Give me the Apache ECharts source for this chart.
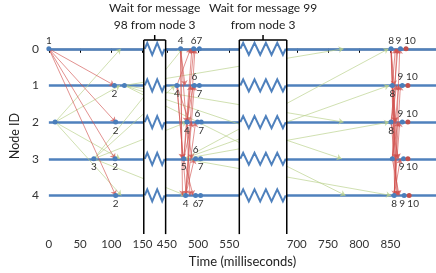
<!DOCTYPE html>
<html lang="en">
<head>
  <meta charset="UTF-8">
  <title>Message timeline</title>
  <style>
    html, body { margin: 0; padding: 0; background: #fff; }
    #chart { width: 436px; height: 273px; }
  </style>
  <script src="https://cdn.jsdelivr.net/npm/echarts@6.0.0/dist/echarts.min.js"></script>
</head>
<body>
  <div id="chart"></div>
  <script>
    // node ids (rows)
    var nodes = [0, 1, 2, 3, 4];
    // x tick labels (ms)
    var timeTicks = [0, 50, 100, 150, 450, 500, 550, 700, 750, 800, 850];
    // broken parts of the time axis [start, end]
    var waitRanges = [[152, 448], [566, 684]];
    var waitNotes = ['Wait for message\n98 from node 3', 'Wait for message 99\nfrom node 3'];

    // events: [time, node, label]
    var eventsAbove = [
      [0, 0, '1'], [472, 0, '4'], [493, 0, '6'], [502, 0, '7'],
      [494, 1, '6'], [499, 2, '6'], [496, 3, '6'],
      [851, 0, '8'], [866, 0, '9'], [869, 1, '9'], [869, 2, '9']
    ];
    var eventsBelow = [
      [105, 1, '2'], [107, 2, '2'], [72, 3, '3'], [106, 3, '2'], [107, 4, '2'],
      [466, 1, '4'], [502, 1, '7'], [482, 2, '4'], [505, 2, '7'],
      [477, 3, '5'], [504, 3, '7'], [480, 4, '4'], [496, 4, '6'], [504, 4, '7'],
      [853, 1, '8'], [851, 2, '8'], [871, 3, '9'], [856, 4, '8'], [872, 4, '9']
    ];
    var eventsPlain = [[121, 1], [10, 2], [853, 3]];
    // commit events (red)
    var commitAbove = [[875, 0, '10'], [878, 1, '10'], [878, 2, '10']];
    var commitBelow = [[878, 3, '10'], [880, 4, '10']];

    // messages: [fromTime, fromNode, toTime, toNode]
    var greenMsgs = [
      [10, 2, 115, 0], [10, 2, 114, 1], [10, 2, 114, 3], [10, 2, 116, 4],
      [72, 3, 475, 0], [72, 3, 463, 1], [72, 3, 482, 2], [72, 3, 480, 4],
      [121, 1, 775, 0], [121, 1, 775, 2], [121, 1, 772, 3], [121, 1, 778, 4],
      [477, 3, 847, 0], [477, 3, 848, 1], [477, 3, 848, 2], [477, 3, 851, 4]
    ];
    var redMsgs = [
      [0, 0, 105, 1], [0, 0, 107, 2], [0, 0, 106, 3], [0, 0, 107, 4],
      // round around 480 ms
      [466, 1, 488, 0], [482, 2, 493, 0], [477, 3, 490, 0], [480, 4, 495, 0],
      [472, 0, 479, 1], [482, 2, 492, 1], [477, 3, 488, 1], [480, 4, 494, 1],
      [472, 0, 481, 2], [466, 1, 486, 2], [477, 3, 490, 2], [480, 4, 496, 2],
      [472, 0, 474, 3], [466, 1, 476, 3], [482, 2, 490, 3], [480, 4, 494, 3],
      [472, 0, 475, 4], [466, 1, 481, 4], [482, 2, 487, 4], [477, 3, 492, 4],
      // round around 850 ms
      [853, 1, 858, 0], [851, 2, 862, 0], [853, 3, 860, 0], [856, 4, 865, 0],
      [851, 0, 856, 1], [851, 2, 860, 1], [853, 3, 863, 1], [856, 4, 866, 1],
      [851, 0, 857, 2], [853, 1, 859, 2], [853, 3, 862, 2], [856, 4, 865, 2],
      [851, 0, 858, 3], [853, 1, 861, 3], [851, 2, 863, 3], [856, 4, 866, 3],
      [851, 0, 857, 4], [853, 1, 860, 4], [851, 2, 862, 4], [853, 3, 864, 4]
    ];

    var FONT = 'Lato, "Noto Sans", sans-serif';
    var BLUE = '#4f81bd';
    var TMAX = 923;

    function toLines(list) {
      return list.map(function (m) { return { coords: [[m[0], m[1]], [m[2], m[3]]] }; });
    }
    function toPoints(list) {
      return list.map(function (d) {
        var item = { value: [d[0], d[1]], name: d[2] || '' };
        if (d[2] === '9') item.label = { offset: [-2, 0] };
        return item;
      });
    }
    function dotSeries(list, color, pos, offset) {
      return {
        type: 'scatter', z: 6, symbolSize: 5,
        itemStyle: { color: color, opacity: 1 },
        label: { show: !!pos, position: pos || 'top', distance: 1, formatter: '{b}', offset: offset || [0, 0],
                 fontSize: 10, fontFamily: FONT, color: '#333' },
        data: toPoints(list)
      };
    }

    var chart = echarts.init(document.getElementById('chart'));
    var option = {
      animation: false,
      grid: { left: 42, right: 0, top: 40, bottom: 37 },
      xAxis: {
        type: 'value', min: 0, max: TMAX,
        breaks: [
          { start: waitRanges[0][0], end: waitRanges[0][1], gap: 35 },
          { start: waitRanges[1][0], end: waitRanges[1][1], gap: 76 }
        ],
        breakArea: { show: false },
        axisLine: { lineStyle: { color: '#000', width: 1.3 } },
        axisTick: { customValues: timeTicks, length: 4, lineStyle: { color: '#000' } },
        axisLabel: { customValues: timeTicks, color: '#333', fontSize: 11.5, fontFamily: FONT, margin: 6 },
        splitLine: { show: false },
        name: 'Time (milliseconds)', nameLocation: 'middle', nameGap: 21,
        nameTextStyle: { fontSize: 13, fontFamily: FONT, color: '#222' }
      },
      yAxis: {
        type: 'value', inverse: true, min: -0.24, max: 5,
        axisLine: { show: false }, axisTick: { show: false }, splitLine: { show: false },
        axisLabel: { customValues: nodes, color: '#333', fontSize: 12, fontFamily: FONT, margin: 10 },
        name: 'Node ID', nameLocation: 'middle', nameGap: 27,
        nameTextStyle: { fontSize: 12.5, fontFamily: FONT, color: '#222' }
      },
      series: [
        {
          type: 'lines', coordinateSystem: 'cartesian2d', z: 2, symbol: 'none',
          lineStyle: { color: BLUE, width: 2.5, opacity: 1 },
          data: nodes.map(function (n) { return { coords: [[0, n], [TMAX, n]] }; })
        },
        {
          type: 'lines', coordinateSystem: 'cartesian2d', z: 3,
          symbol: ['none', 'arrow'], symbolSize: 5,
          lineStyle: { color: '#b9d18a', width: 0.9, opacity: 0.75 },
          data: toLines(greenMsgs)
        },
        {
          type: 'lines', coordinateSystem: 'cartesian2d', z: 4,
          symbol: ['none', 'arrow'], symbolSize: 5,
          lineStyle: { color: '#d0504d', width: 0.9, opacity: 0.7 },
          data: toLines(redMsgs)
        },
        dotSeries(eventsAbove, '#4a7ebb', 'top'),
        dotSeries(eventsBelow, '#4a7ebb', 'bottom'),
        dotSeries(eventsPlain, '#4a7ebb', null),
        dotSeries(commitAbove, '#c0504d', 'top', [4, 0]),
        dotSeries(commitBelow, '#c0504d', 'bottom', [4, 0]),
        {
          // boxes over the broken parts of the axis
          type: 'custom', z: 8, clip: false, silent: true,
          encode: { x: [0, 1] },
          data: waitRanges.map(function (r, i) { return [r[0], r[1], i]; }),
          renderItem: function (params, api) {
            var cs = params.coordSys;
            var x1 = api.coord([api.value(0), 0])[0];
            var x2 = api.coord([api.value(1), 0])[0];
            var top = cs.y, bottom = cs.y + cs.height + 2;
            var xm = (x1 + x2) / 2;
            var kids = [
              { type: 'rect', shape: { x: x1, y: top, width: x2 - x1, height: bottom - top }, style: { fill: '#fff' } }
            ];
            var periods = Math.max(2, Math.round((x2 - x1) / 11));
            var p = (x2 - x1 - 2) / periods;
            nodes.forEach(function (n) {
              var y = api.coord([0, n])[1];
              var pts = [[x1 + 1, y]];
              for (var k = 0; k < periods; k++) {
                pts.push([x1 + 1 + p * (k + 0.25), y - 6]);
                pts.push([x1 + 1 + p * (k + 0.75), y + 6]);
              }
              pts.push([x2 - 1, y]);
              kids.push({ type: 'polyline', shape: { points: pts }, style: { stroke: BLUE, lineWidth: 2, fill: null } });
            });
            var ls = { stroke: '#000', lineWidth: 1.5 };
            kids.push({ type: 'line', shape: { x1: x1, y1: top, x2: x1, y2: bottom }, style: ls });
            kids.push({ type: 'line', shape: { x1: x2, y1: top, x2: x2, y2: bottom }, style: ls });
            kids.push({ type: 'line', shape: { x1: x1, y1: top, x2: x2, y2: top }, style: ls });
            kids.push({ type: 'line', shape: { x1: xm, y1: top - 5, x2: xm, y2: top }, style: ls });
            kids.push({
              type: 'text',
              style: { text: waitNotes[api.value(2)], x: xm, y: top - 6, align: 'center', verticalAlign: 'bottom',
                       font: '12px ' + FONT, fill: '#222', lineHeight: 17 }
            });
            return { type: 'group', children: kids };
          }
        }
      ]
    };
    chart.setOption(option);
  </script>
</body>
</html>
